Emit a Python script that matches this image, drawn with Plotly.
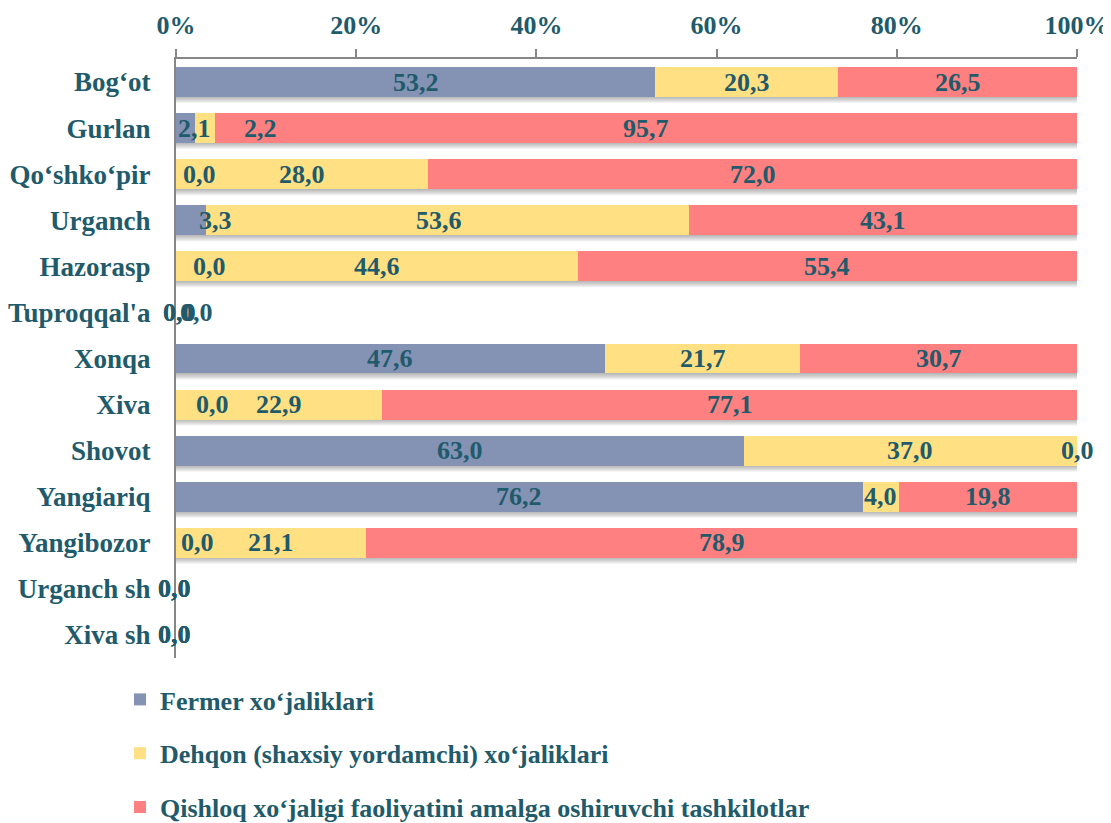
import plotly.graph_objects as go

categories = ["Bog‘ot", "Gurlan", "Qo‘shko‘pir", "Urganch", "Hazorasp", "Tuproqqal'a",
              "Xonqa", "Xiva", "Shovot", "Yangiariq", "Yangibozor", "Urganch sh", "Xiva sh"]
series_names = ["Fermer xo‘jaliklari",
                "Dehqon (shaxsiy yordamchi) xo‘jaliklari",
                "Qishloq xo‘jaligi faoliyatini amalga oshiruvchi tashkilotlar"]
fermer = [53.2, 2.1, 0.0, 3.3, 0.0, 0.0, 47.6, 0.0, 63.0, 76.2, 0.0, 0.0, 0.0]
dehqon = [20.3, 2.2, 28.0, 53.6, 44.6, 0.0, 21.7, 22.9, 37.0, 4.0, 21.1, 0.0, 0.0]
qishloq = [26.5, 95.7, 72.0, 43.1, 55.4, 0.0, 30.7, 77.1, 0.0, 19.8, 78.9, 0.0, 0.0]
x_ticks = [0, 20, 40, 60, 80, 100]
x_ticktext = ["0%", "20%", "40%", "60%", "80%", "100%"]

# label pixel nudges (style only), per series per row
label_shift = [
    [0, 9, 23, 25, 33, 3, 0, 36, 0, 0, 21, -2, -2],
    [0, 56, 0, -8, 0, 20, 0, 0, 0, 0, 0, -2, -2],
    [0, 0, 0, 0, 0, 3, 0, 0, 0, 0, 0, -2, -2],
]

colors = ["#8493B4", "#FFE083", "#FF8080"]
TEXT = "#215A6A"
FONT = "Liberation Serif"
FS = 26

data = [fermer, dehqon, qishloq]
fig = go.Figure()
for name, vals, col in zip(series_names, data, colors):
    fig.add_trace(go.Bar(
        y=categories, x=vals, name=name, orientation="h",
        marker=dict(color=col, line=dict(width=0)),
        legendgroup=name, hoverinfo="skip",
    ))

annotations = []
shapes = []
for i, cat in enumerate(categories):
    cum = 0.0
    for s, vals in enumerate(data):
        v = vals[i]
        center = cum + v / 2.0
        cum += v
        annotations.append(dict(
            x=center, y=cat, xref="x", yref="y", showarrow=False,
            text=f"{v:.1f}".replace(".", ","), xshift=label_shift[s][i],
            font=dict(family=FONT, size=FS, color=TEXT, weight="bold"),
        ))
    if cum > 0:
        # soft drop shadow beneath each bar
        for k in range(1, 9):
            shapes.append(dict(
                type="rect", layer="below", xref="x", yref="y",
                x0=0, x1=cum, ysizemode="pixel", yanchor=i,
                y0=-(13 + k), y1=0, line=dict(width=0),
                fillcolor="rgba(90,90,90,0.08)",
            ))

fig.update_layout(
    barmode="stack", bargap=0.35,
    width=1111, height=823,
    margin=dict(l=168, r=42, t=51, b=173, autoexpand=False),
    paper_bgcolor="white", plot_bgcolor="white",
    font=dict(family=FONT, size=FS, color=TEXT, weight="bold"),
    annotations=annotations,
    shapes=shapes,
    legend=dict(
        orientation="v", xref="container", yref="container",
        x=112 / 1111, y=1 - 668 / 823, xanchor="left", yanchor="top",
        traceorder="grouped", tracegroupgap=17,
        font=dict(family=FONT, size=FS, color=TEXT, weight="bold"),
        bgcolor="rgba(0,0,0,0)",
    ),
    xaxis=dict(
        side="top", range=[0, 100], tickvals=x_ticks, ticktext=x_ticktext,
        showgrid=False, zeroline=False, showline=True, linecolor="#868686", linewidth=2,
        ticks="outside", ticklen=8, tickcolor="#868686", tickwidth=2,
        ticklabelstandoff=5, tickangle=0, automargin=False,
        tickfont=dict(family=FONT, size=FS, color=TEXT, weight="bold"),
    ),
    yaxis=dict(
        autorange="reversed", showgrid=False, zeroline=False,
        showline=True, linecolor="#868686", linewidth=2, ticks="",
        ticklabelstandoff=18, automargin=False,
        tickfont=dict(family=FONT, size=27, color=TEXT, weight="bold"),
    ),
)

fig.write_html("out.html")
